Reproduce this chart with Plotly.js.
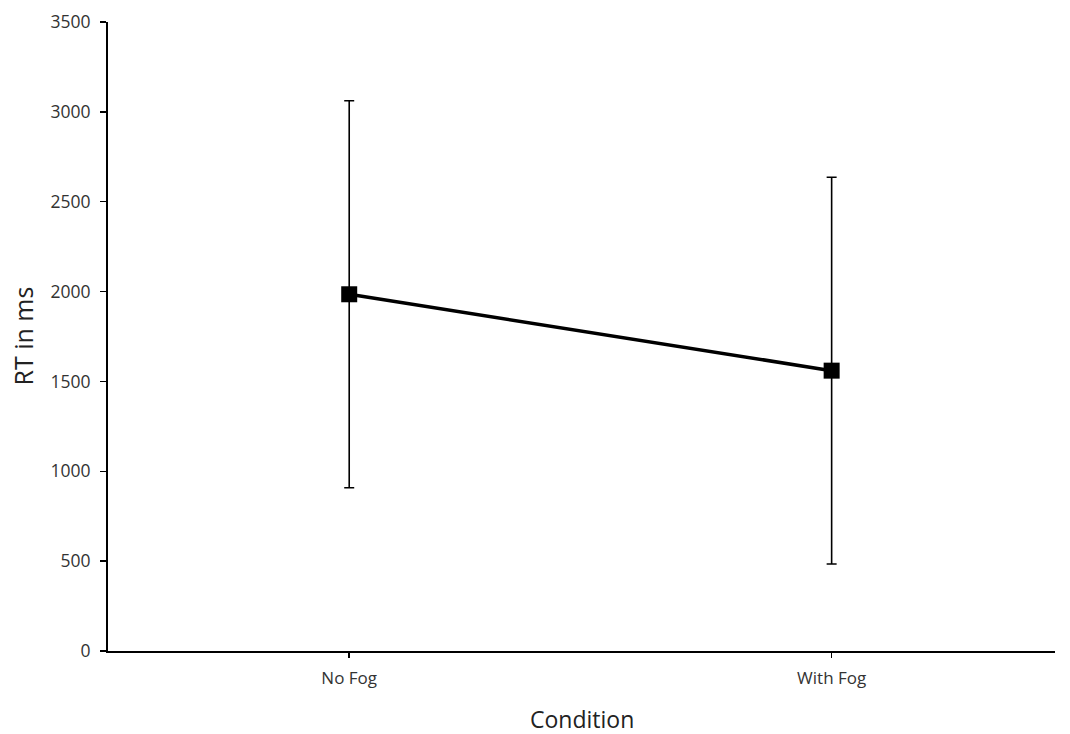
<!DOCTYPE html>
<html>
<head>
<meta charset="utf-8">
<script src="https://cdn.plot.ly/plotly-3.0.1.min.js"></script>
<style>html,body{margin:0;padding:0;background:#fff;}#chart{width:1070px;height:734px;}</style>
</head>
<body>
<div id="chart"></div>
<script>
const categories = ["No Fog", "With Fog"];
const meanRT = [1985, 1560];
const errRT = [1077, 1076];
const yTicks = [0, 500, 1000, 1500, 2000, 2500, 3000, 3500];
const xTitle = "Condition";
const yTitle = "RT in ms";

const trace = {
  x: categories,
  y: meanRT,
  type: "scatter",
  mode: "lines+markers",
  line: {color: "#000", width: 3.5},
  marker: {symbol: "square", size: 16, color: "#000"},
  error_y: {type: "data", array: errRT, visible: true, color: "#000", thickness: 1.6, width: 5},
  showlegend: false,
  hoverinfo: "x+y"
};

const layout = {
  width: 1070, height: 734,
  margin: {l: 108, r: 15, t: 22, b: 83},
  paper_bgcolor: "#fff", plot_bgcolor: "#fff",
  font: {family: "Open Sans, Liberation Sans, sans-serif", color: "#333"},
  xaxis: {
    type: "category",
    range: [-0.5, 1.463],
    showline: true, linecolor: "#000", linewidth: 2,
    ticks: "outside", ticklen: 5, tickwidth: 1.5, tickcolor: "#000",
    ticklabelstandoff: 6,
    showgrid: false, zeroline: false,
    tickfont: {size: 17, color: "#333"}
  },
  yaxis: {
    range: [0, 3500],
    tickvals: yTicks,
    showline: true, linecolor: "#000", linewidth: 2,
    ticks: "outside", ticklen: 6, tickwidth: 1.5, tickcolor: "#000",
    ticklabelstandoff: 6,
    showgrid: false, zeroline: false,
    tickfont: {size: 17.5, color: "#333"}
  },
  annotations: [
    {text: xTitle, xref: "paper", yref: "paper", x: 0.5, y: 0, xanchor: "center", yanchor: "middle",
     yshift: -68, showarrow: false, font: {size: 23, color: "#222"}},
    {text: yTitle, xref: "paper", yref: "paper", x: 0, y: 0.5, xanchor: "center", yanchor: "middle",
     xshift: -86, textangle: -90, showarrow: false, font: {size: 25, color: "#222"}}
  ]
};

Plotly.newPlot("chart", [trace], layout, {displayModeBar: false, staticPlot: true});
</script>
</body>
</html>
